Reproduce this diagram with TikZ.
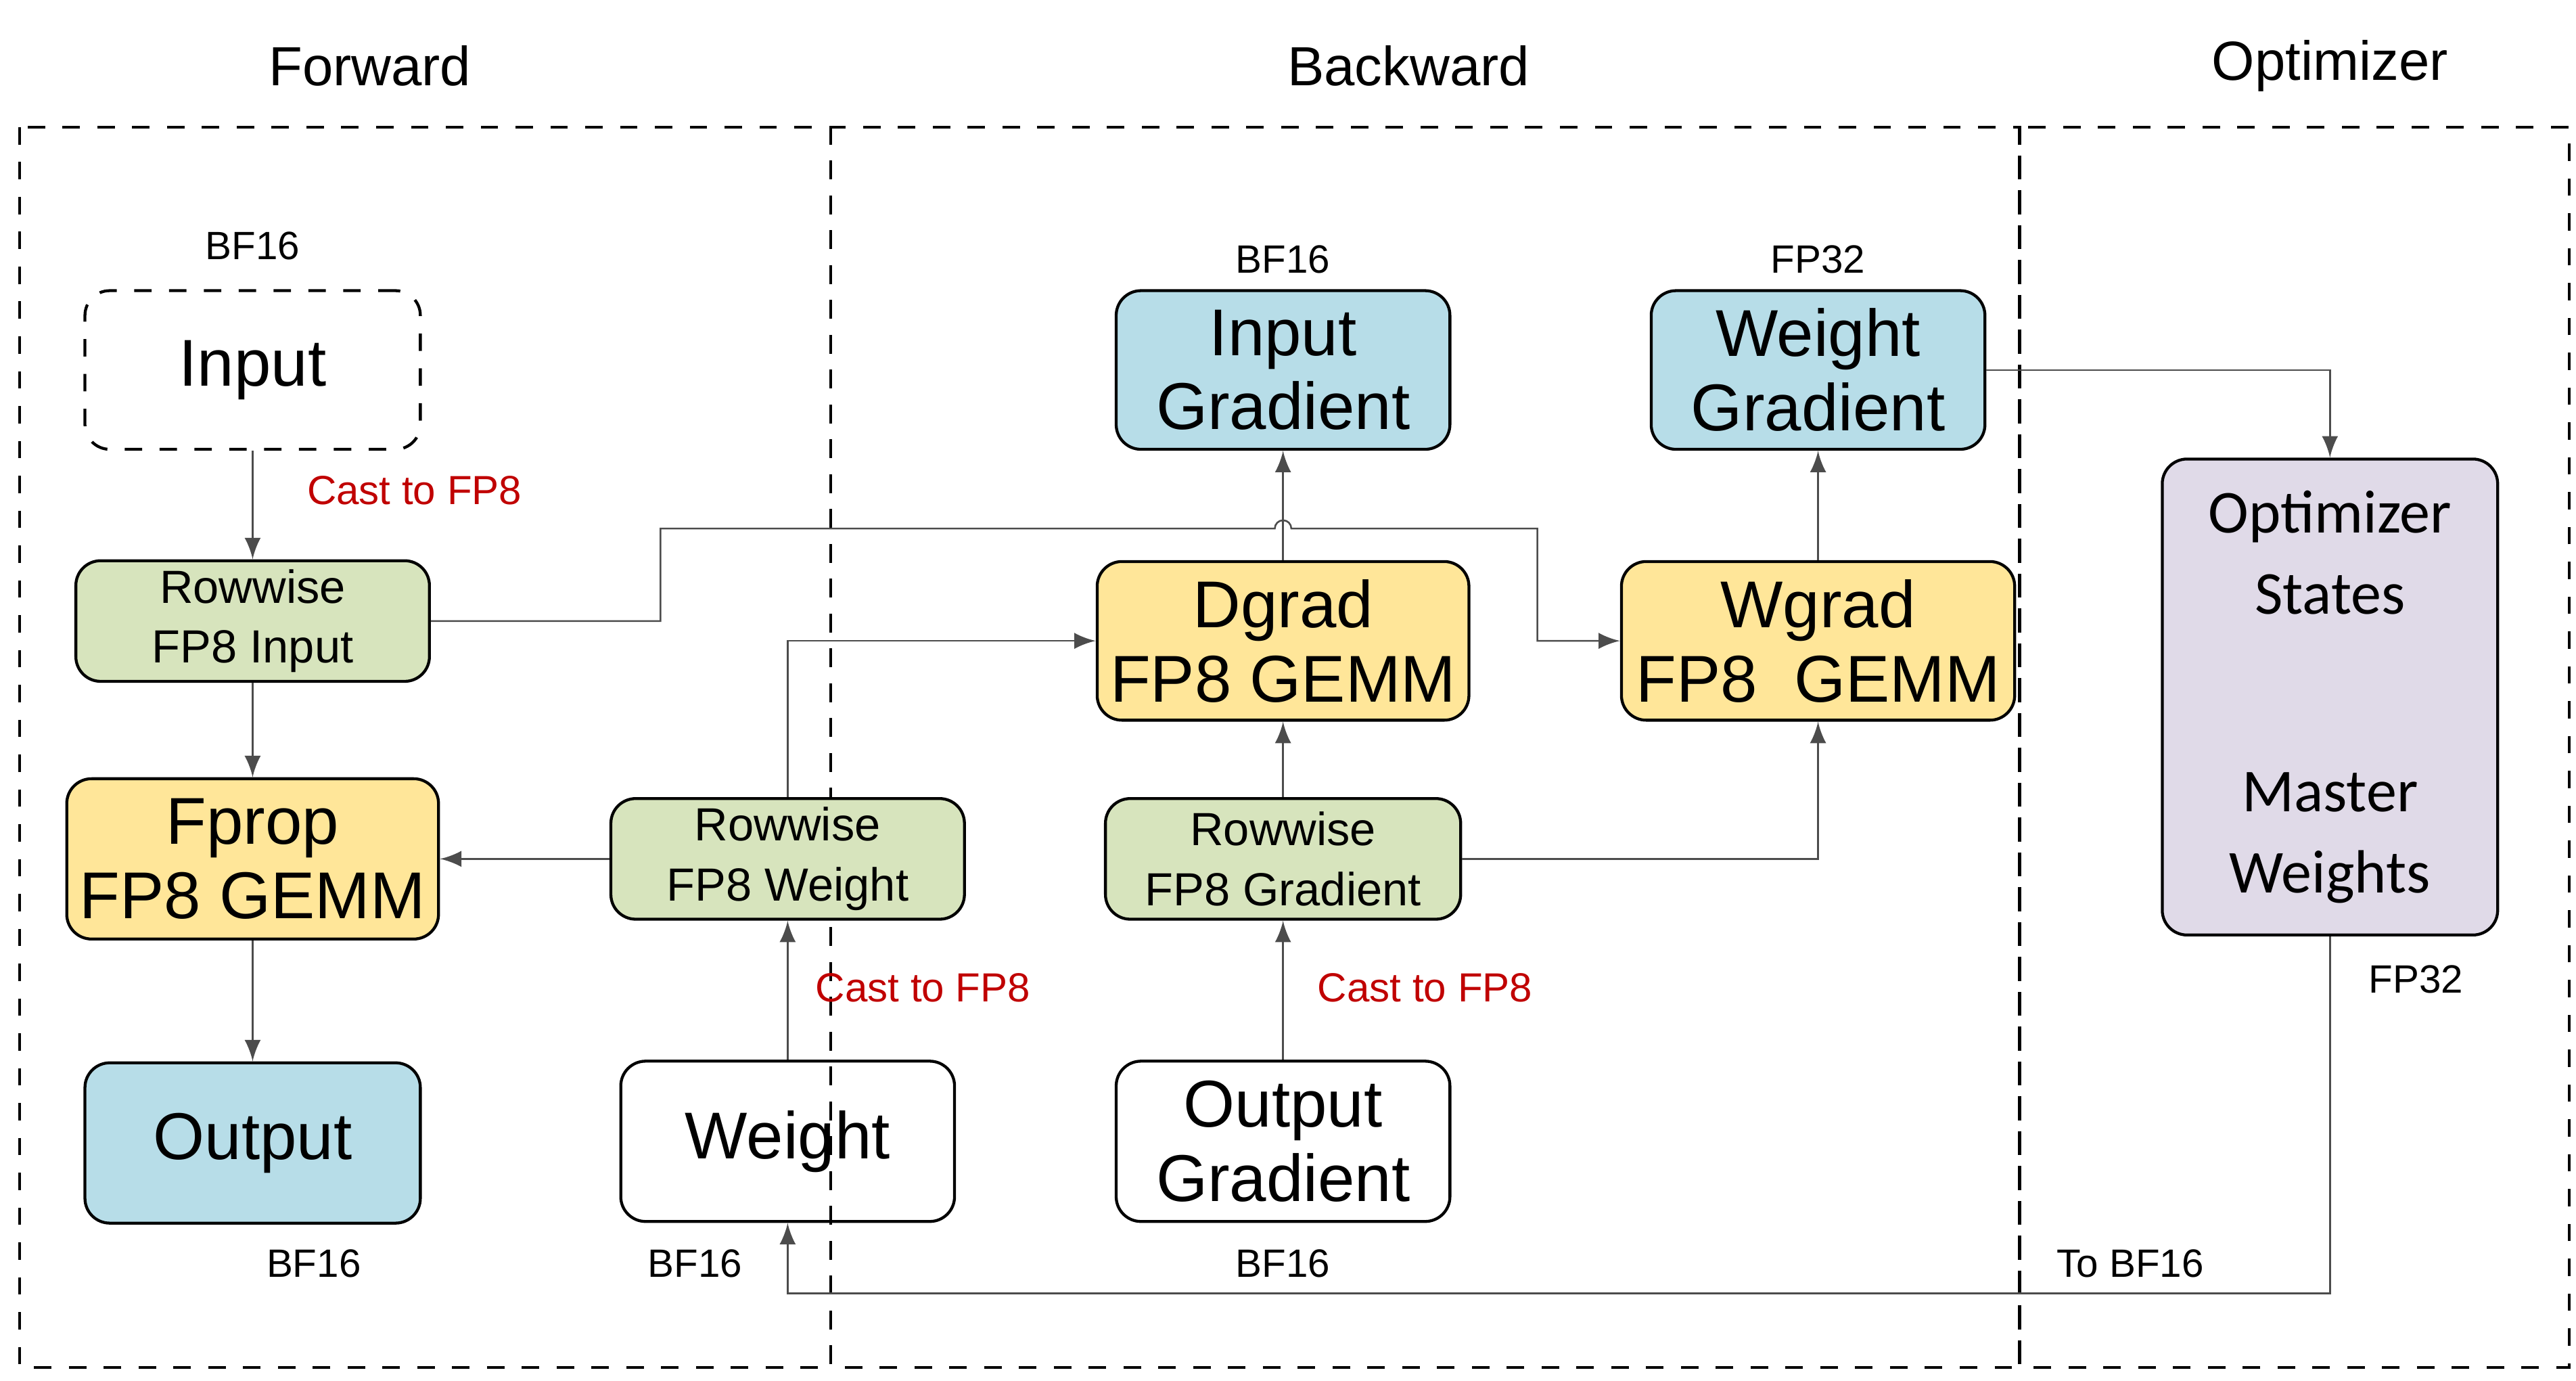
\documentclass[tikz,border=0pt]{standalone}
\usepackage{fontspec}
\setmainfont{Liberation Sans}
\newfontfamily\calibri{Carlito}
\usetikzlibrary{positioning,calc}

\definecolor{boxgreen}{HTML}{D7E4BD}
\definecolor{boxyellow}{HTML}{FFE699}
\definecolor{boxblue}{HTML}{B7DDE8}
\definecolor{boxpurple}{HTML}{E0DAE8}
\definecolor{castred}{HTML}{C00000}

\begin{document}
\begin{tikzpicture}
                    [x=0.01cm,y=-0.01cm,>=latex,
                     blk/.style={draw,rounded corners=0.15cm,line width=0.5pt,align=center,inner sep=0pt},
                     big/.style={blk,font=\fontsize{11.4}{12.8}\selectfont},
                     small/.style={blk,font=\fontsize{8}{10.3}\selectfont,fill=boxgreen,minimum width=2.14cm,minimum height=0.73cm},
                     tag/.style={font=\fontsize{6.8}{8}\selectfont},
                     cast/.style={font=\fontsize{7}{8}\selectfont,text=castred},
                     title/.style={font=\fontsize{9.5}{11}\selectfont},
                     wire/.style={draw=black!70,line width=0.3pt},
                     frame/.style={dashed,line width=0.5pt}]

                    \useasboundingbox (0,0) rectangle (1560,836);

                    % frames
                    \draw[frame] (12,77) rectangle (503,828);
                    \draw[frame] (503,77) rectangle (1223,828);
                    \draw[frame] (1223,77) rectangle (1556,828);
                    \node[title] (tfwd) at (224,40) {Forward};
                    \node[title] (tbwd) at (853,40) {Backward};
                    \node[title] (topt) at (1411,40) {Optimizer};

                    % forward
                    \node[big,dashed,minimum width=2.03cm,minimum height=0.96cm] (input) at (153,224) {Input};
                    \node[small] (rinput) at (153,376) {Rowwise\\FP8 Input};
                    \node[big,fill=boxyellow,minimum width=2.25cm,minimum height=0.97cm] (fprop) at (153,520) {Fprop\\FP8 GEMM};
                    \node[big,fill=boxblue,minimum width=2.03cm,minimum height=0.97cm] (output) at (153,692) {Output};
                    \node[small] (rweight) at (477,520) {Rowwise\\FP8 Weight};
                    \node[big,minimum width=2.02cm,minimum height=0.97cm] (weight) at (477,691) {Weight};

                    % backward
                    \node[big,fill=boxblue,minimum width=2.02cm,minimum height=0.96cm] (igrad) at (777,224) {Input\\Gradient};
                    \node[big,fill=boxblue,minimum width=2.02cm,minimum height=0.96cm] (wgrad) at (1101,224) {Weight\\Gradient};
                    \node[big,fill=boxyellow,minimum width=2.25cm,minimum height=0.96cm] (dgemm) at (777,388) {Dgrad\\FP8 GEMM};
                    \node[big,fill=boxyellow,minimum width=2.38cm,minimum height=0.96cm] (wgemm) at (1101,388) {Wgrad\\FP8\ \ GEMM};
                    \node[small,minimum width=2.15cm] (rgrad) at (777,520) {Rowwise\\FP8 Gradient};
                    \node[big,minimum width=2.02cm,minimum height=0.97cm] (ograd) at (777,691) {Output\\Gradient};

                    % optimizer
                    \node[blk,fill=boxpurple,minimum width=2.03cm,minimum height=2.88cm,
                          font=\calibri\fontsize{10.5}{14}\selectfont] (opt) at (1411,422)
                          {Optimizer\\States\\[0.7cm]Master\\Weights};

                    % labels
                    \node[tag] (l1) at (153,149) {BF16};
                    \node[tag] (l2) at (190,765) {BF16};
                    \node[tag] (l3) at (421,765) {BF16};
                    \node[tag] (l4) at (777,765) {BF16};
                    \node[tag] (l5) at (777,157) {BF16};
                    \node[tag] (l6) at (1101,157) {FP32};
                    \node[tag] (l7) at (1463,593) {FP32};
                    \node[tag] (l8) at (1290,765) {To BF16};
                    \node[cast] (c1) at (251,297) {Cast to FP8};
                    \node[cast] (c2) at (559,598) {Cast to FP8};
                    \node[cast] (c3) at (863,598) {Cast to FP8};

                    % connectors
                    \draw[wire,->] (input) -- (rinput);
                    \draw[wire,->] (rinput) -- (fprop);
                    \draw[wire,->] (fprop) -- (output);
                    \draw[wire,->] (rweight) -- (fprop);
                    \draw[wire,->] (weight) -- (rweight);
                    \draw[wire,->] (rweight.north) |- (dgemm.west);
                    \draw[wire,->] (rinput.east) -- (400,376) -- (400,320) -- (772,320)
                        arc[start angle=180,end angle=0,radius=0.05cm] -- (931,320) -- (931,388) -- (wgemm.west);
                    \draw[wire,->] (dgemm) -- (igrad);
                    \draw[wire,->] (wgemm) -- (wgrad);
                    \draw[wire,->] (rgrad) -- (dgemm);
                    \draw[wire,->] (rgrad.east) -| (wgemm.south);
                    \draw[wire,->] (ograd) -- (rgrad);
                    \draw[wire,->] (wgrad.east) -| (opt.north);
                    \draw[wire,->] (opt.south) -- (1411,783) -| (weight.south);

                \end{tikzpicture}
\end{document}
